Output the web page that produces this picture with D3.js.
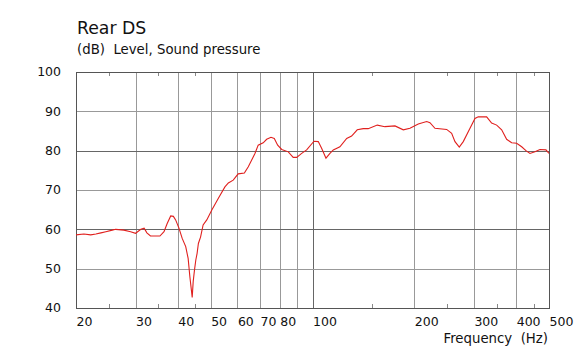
<!DOCTYPE html>
<html lang="en">
<head>
    <meta charset="UTF-8">
    <title>Rear DS</title>
    <script src="https://d3js.org/d3.v7.min.js"></script>
    <style>
        body { margin: 0; background: #fff; }
        text { font-family: "DejaVu Sans", Verdana, sans-serif; fill: #111; }
    </style>
</head>
<body>
<svg id="chart"></svg>
<script>
    freqs = [20, 21.1, 22.1, 22.9, 23.7, 24.5, 25.6, 26.2, 27.7, 29.0, 30.0, 31.1, 31.8, 32.4, 33.2,
        35.4, 36.4, 37.2, 38.1, 38.8, 39.4, 40.3, 41.2, 42.2, 42.9, 43.4, 43.8, 44.1, 44.4, 44.8, 45.2,
        45.6, 46.0, 46.7, 47.5, 48.7, 50.4, 52.7, 55.1, 56.4, 58.3, 60.3, 62.9, 64.6, 67.6, 69.1,
        71.5, 73.2, 75.4, 77.1, 78.9, 81.1, 84.8, 87.7, 89.8, 92.9, 96.1, 101, 104, 106.4, 109.6,
        112.6, 115.2, 120.5, 126.2, 130.5, 135.6, 141.3, 146.1, 155.4, 163.7, 175.3, 185.5, 194.1,
        205.4, 217.5, 222.4, 230.1, 249.2, 257.8, 263.7, 271.5, 279, 288.6, 302.1, 308.9, 327.1,
        338.4, 350.2, 362.3, 374.8, 387.8, 401.2, 415.1, 427.4, 439.2, 454.4, 470.2, 489.7, 500];
    levels = [58.6, 58.8, 58.6, 58.8, 59.1, 59.4, 59.8, 60.0, 59.8, 59.4, 59.0, 60.0, 60.3, 59.1, 58.3,
        58.3, 59.4, 61.5, 63.4, 63.3, 62.4, 60.3, 57.7, 55.6, 52.6, 48.0, 45.0, 42.7, 46.7, 49.7, 52.2,
        53.9, 56.4, 58.1, 61.1, 62.4, 64.9, 67.9, 70.8, 71.8, 72.5, 74.1, 74.3, 75.9, 79.3, 81.4,
        82.0, 82.9, 83.4, 83.1, 81.4, 80.3, 79.7, 78.3, 78.3, 79.3, 80.2, 82.4, 82.3, 80.6, 78.1,
        79.3, 80.2, 81.0, 83.1, 83.7, 85.3, 85.6, 85.6, 86.5, 86.1, 86.3, 85.3, 85.7,
        86.8, 87.4, 87.1, 85.7, 85.4, 84.4, 82.3, 80.9, 82.3, 84.8, 88.2, 88.6, 88.6,
        87.0, 86.5, 85.3, 82.9, 82.0, 81.9, 81.0, 80.0, 79.3, 79.7, 80.3, 80.2, 79.3];

    xLabels = [20, 30, 40, 50, 60, 70, 80, 100, 200, 300, 400, 500];
    xGrid = [30, 40, 50, 60, 70, 80, 90, 100, 200, 300, 400];
    xMinor = [25, 35, 45, 150, 250, 350, 450];
    yTicks = [40, 50, 60, 70, 80, 90, 100];

    data = freqs.map((f, i) => ({f: f, db: levels[i]}));

    width = 578;
    height = 351;
    plot = {left: 76, right: 549, top: 72, bottom: 308};

    svg = d3.select("#chart")
        .attr("width", width)
        .attr("height", height);

    xScale = d3.scaleLog()
        .domain([20, 500])
        .range([plot.left, plot.right]);

    yScale = d3.scaleLinear()
        .domain([40, 100])
        .range([plot.bottom, plot.top]);

    // grid
    svg.append("g").selectAll("line")
        .data(xGrid)
        .join("line")
        .attr("x1", d => Math.round(xScale(d)) + 0.5)
        .attr("x2", d => Math.round(xScale(d)) + 0.5)
        .attr("y1", plot.top)
        .attr("y2", plot.bottom)
        .attr("stroke", d => d === 100 ? "#666" : "#999")
        .attr("stroke-width", 1);

    svg.append("g").selectAll("line")
        .data(yTicks.slice(1, -1))
        .join("line")
        .attr("x1", plot.left)
        .attr("x2", plot.right)
        .attr("y1", d => Math.round(yScale(d)) + 0.5)
        .attr("y2", d => Math.round(yScale(d)) + 0.5)
        .attr("stroke", d => d % 20 === 0 ? "#666" : "#999")
        .attr("stroke-width", 1);

    // minor ticks on top and bottom edges
    minor = svg.append("g").selectAll("g")
        .data(xMinor)
        .join("g");
    minor.append("line")
        .attr("x1", d => Math.round(xScale(d)) + 0.5)
        .attr("x2", d => Math.round(xScale(d)) + 0.5)
        .attr("y1", plot.top)
        .attr("y2", plot.top + 4)
        .attr("stroke", "#888");
    minor.append("line")
        .attr("x1", d => Math.round(xScale(d)) + 0.5)
        .attr("x2", d => Math.round(xScale(d)) + 0.5)
        .attr("y1", plot.bottom)
        .attr("y2", plot.bottom - 4)
        .attr("stroke", "#888");

    // frame
    svg.append("rect")
        .attr("x", plot.left + 0.5)
        .attr("y", plot.top + 0.5)
        .attr("width", plot.right - plot.left)
        .attr("height", plot.bottom - plot.top)
        .attr("fill", "none")
        .attr("stroke", "#555");

    // response curve
    line = d3.line()
        .x(d => xScale(d.f))
        .y(d => yScale(d.db));

    svg.append("path")
        .datum(data)
        .attr("d", line)
        .attr("fill", "none")
        .attr("stroke", "#e0201e")
        .attr("stroke-width", 1.1);

    // tick labels
    svg.append("g").selectAll("text")
        .data(yTicks)
        .join("text")
        .attr("x", 61)
        .attr("y", d => yScale(d))
        .attr("dy", "0.35em")
        .attr("text-anchor", "end")
        .attr("font-size", 12.5)
        .text(d => d);

    svg.append("g").selectAll("text")
        .data(xLabels)
        .join("text")
        .attr("x", d => xScale(d) + 0.5)
        .attr("y", 326)
        .attr("font-size", 12.5)
        .text(d => d);

    svg.append("text")
        .attr("x", 548)
        .attr("y", 343)
        .attr("text-anchor", "end")
        .attr("font-size", 13.3)
        .attr("xml:space", "preserve")
        .text("Frequency  (Hz)");

    // titles
    svg.append("text")
        .attr("x", 77)
        .attr("y", 34)
        .attr("font-size", 17.3)
        .text("Rear DS");

    svg.append("text")
        .attr("x", 77)
        .attr("y", 54)
        .attr("font-size", 13.3)
        .attr("xml:space", "preserve")
        .text("(dB)  Level, Sound pressure");
</script>
</body>
</html>
